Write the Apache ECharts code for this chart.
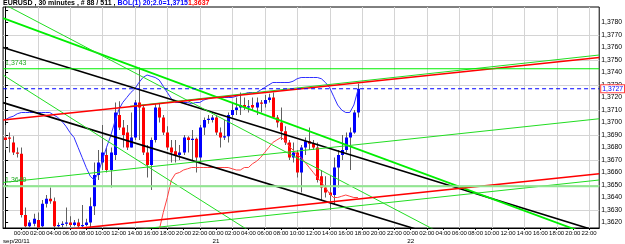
<!DOCTYPE html>
<html>
<head>
<meta charset="utf-8">
<script src="https://cdn.jsdelivr.net/npm/echarts@6/dist/echarts.min.js"></script>
<style>
  html, body { margin: 0; padding: 0; background: #fff; }
  #main { width: 625px; height: 244px; }
</style>
</head>
<body>
<div id="main"></div>
<script>
// 30 minute bars, EURUSD, sep 20-21 2011
const openP = [1.3688,1.3688,1.3684,1.3676,1.3675,1.3626,1.3617,1.3619,1.3622,1.3617,
  1.3635,1.3639,1.3637,1.3617,1.3618,1.3619,1.3620,1.3618,1.3620,1.3617,
  1.3618,1.3620,1.3633,1.3658,1.3668,1.3674,1.3662,1.3674,1.3706,1.3696,
  1.3692,1.3680,1.3688,1.3716,1.3712,1.3676,1.3666,1.3686,1.3712,1.3704,
  1.3692,1.3680,1.3677,1.3674,1.3676,1.3688,1.3686,1.3687,1.3672,1.3696,
  1.3702,1.3702,1.3704,1.3692,1.3688,1.3689,1.3706,1.3710,1.3712,1.3714,
  1.3712,1.3714,1.3712,1.3716,1.3715,1.3718,1.3720,1.3704,1.3700,1.3693,
  1.3684,1.3672,1.3676,1.3660,1.3680,1.3685,1.3683,1.3680,1.3657,1.3648,
  1.3644,1.3642,1.3664,1.3674,1.3678,1.3688,1.3692,1.3708];
const highP = [1.3698,1.3692,1.3689,1.3680,1.3680,1.3632,1.3622,1.3627,1.3628,1.3638,
  1.3642,1.3648,1.3640,1.3620,1.3621,1.3632,1.3625,1.3622,1.3623,1.3634,
  1.3623,1.3640,1.3668,1.3678,1.3698,1.3680,1.3680,1.3716,1.3717,1.3702,
  1.3698,1.3708,1.3718,1.3744,1.3714,1.3682,1.3688,1.3715,1.3715,1.3706,
  1.3697,1.3686,1.3686,1.3682,1.3690,1.3689,1.3694,1.3688,1.3698,1.3704,
  1.3706,1.3706,1.3706,1.3696,1.3702,1.3708,1.3716,1.3720,1.3724,1.3720,
  1.3718,1.3720,1.3720,1.3718,1.3722,1.3723,1.3724,1.3706,1.3712,1.3697,
  1.3686,1.3684,1.3678,1.3682,1.3688,1.3696,1.3686,1.3684,1.3662,1.3657,
  1.3658,1.3672,1.3678,1.3690,1.3692,1.3696,1.3710,1.3731];
const lowP = [1.3678,1.3676,1.3674,1.3672,1.3624,1.3616,1.3616,1.3617,1.3615,1.3616,
  1.3632,1.3635,1.3616,1.3616,1.3616,1.3617,1.3616,1.3617,1.3616,1.3616,
  1.3617,1.3616,1.3626,1.3654,1.3662,1.3660,1.3648,1.3670,1.3694,1.3680,
  1.3678,1.3680,1.3686,1.3686,1.3674,1.3656,1.3646,1.3684,1.3700,1.3690,
  1.3678,1.3668,1.3668,1.3670,1.3674,1.3676,1.3670,1.3660,1.3668,1.3690,
  1.3699,1.3700,1.3690,1.3680,1.3686,1.3684,1.3704,1.3706,1.3706,1.3710,
  1.3708,1.3710,1.3706,1.3708,1.3712,1.3716,1.3703,1.3696,1.3686,1.3682,
  1.3670,1.3668,1.3656,1.3644,1.3674,1.3678,1.3678,1.3652,1.3638,1.3640,
  1.3630,1.3634,1.3648,1.3670,1.3676,1.3662,1.3691,1.3704];
const closeP = [1.3686,1.3687,1.3676,1.3675,1.3626,1.3617,1.3620,1.3623,1.3616,1.3635,
  1.3639,1.3637,1.3617,1.3618,1.3619,1.3620,1.3618,1.3620,1.3617,1.3618,
  1.3620,1.3633,1.3658,1.3668,1.3676,1.3662,1.3676,1.3708,1.3696,1.3690,
  1.3680,1.3688,1.3716,1.3712,1.3676,1.3666,1.3686,1.3712,1.3704,1.3692,
  1.3680,1.3676,1.3674,1.3676,1.3688,1.3686,1.3687,1.3672,1.3696,1.3702,
  1.3703,1.3704,1.3692,1.3688,1.3689,1.3706,1.3710,1.3712,1.3714,1.3712,
  1.3713,1.3712,1.3716,1.3715,1.3718,1.3720,1.3704,1.3700,1.3693,1.3684,
  1.3672,1.3676,1.3660,1.3680,1.3685,1.3683,1.3680,1.3654,1.3648,1.3644,
  1.3642,1.3664,1.3674,1.3678,1.3688,1.3692,1.3708,1.3727];

// BOL(1) 20;2.0 bands
const bandUp = [1.3702,1.3704,1.3705,1.3707,1.3708,1.3708,1.3708,1.3708,1.3708,1.3708,
  1.3708,1.3708,1.3706,1.3704,1.3701,1.3697,1.3692,1.3688,1.3680,1.3672,
  1.3664,1.3657,1.3654,1.3660,1.3670,1.3680,1.3689,1.3700,1.3710,1.3716,
  1.3720,1.3724,1.3727,1.3732,1.3736,1.3738,1.3737,1.3736,1.3734,1.3729,
  1.3724,1.3719,1.3716,1.3716,1.3716,1.3716,1.3715,1.3716,1.3716,1.3718,
  1.3719,1.3720,1.3720,1.3720,1.3720,1.3720,1.3720,1.3721,1.3722,1.3723,
  1.3724,1.3724,1.3724,1.3726,1.3728,1.3730,1.3732,1.3732,1.3732,1.3732,
  1.3732,1.3733,1.3735,1.3736,1.3736,1.3736,1.3736,1.3736,1.3735,1.3732,
  1.3728,1.3721,1.3714,1.3710,1.3708,1.3708,1.3714,1.3726];
const bandDn = [null,null,null,null,null,null,null,null,null,null,
  null,null,null,null,null,null,null,null,null,null,
  null,null,null,null,null,null,null,null,null,null,
  null,null,null,null,null,null,null,1.3598,1.3614,1.3628,
  1.3640,1.3654,1.3659,1.3660,1.3662,1.3663,1.3664,1.3664,1.3664,1.3664,
  1.3664,1.3664,1.3664,1.3664,1.3664,1.3664,1.3663,1.3662,1.3662,1.3664,
  1.3664,1.3667,1.3669,1.3672,1.3676,1.3680,1.3684,1.3686,1.3688,1.3686,
  1.3681,1.3678,1.3674,1.3672,1.3668,1.3664,1.3660,1.3656,1.3652,1.3648,
  1.3643,1.3640,1.3640,1.3641,1.3642,1.3641,1.3640,1.3640];

// chart objects: [bar, price] end points
const blackUp = [[-0.5, 1.3760], [146.5, 1.36126]];
const blackDn = [[-0.5, 1.37159], [146.5, 1.35698]];
const greenMain = [[-0.5, 1.37835], [146.5, 1.36073]];
const greenSteep = [[-0.5, 1.3795], [146.5, 1.3545]];
const greenSteep2 = [[-0.5, 1.3738], [146.5, 1.3436]];
const greenRise = [[-0.5, 1.3652], [146.5, 1.3703]];
const greenTop = [[30.8, 1.3713], [146.5, 1.3754]];
const greenLow = [[-0.5, 1.3603], [146.5, 1.3654]];
const redUp = [[-0.5, 1.3702], [146.5, 1.3752]];
const redDn = [[-0.5, 1.3609], [146.5, 1.3659]];
const hLineHigh = 1.3743;
const hLineLow = 1.3649;
const lastPrice = 1.3727;

const gridPrices = [1.3630,1.3650,1.3670,1.3690,1.3710,1.3730,1.3750,1.3770];
const gridBars = [8,16,24,32,40,48,56,64,72,80,88,96,104,112,120,128,136,144];

// time axis, first bar 22:00 on the 19th
const nBars = 147;
const times = [];
for (let i = 0; i < nBars; i++) {
  const m = 22 * 60 + i * 30;
  const d = 19 + Math.floor(m / 1440);
  const hh = Math.floor((m % 1440) / 60), mm = m % 60;
  times.push(d + ' ' + String(hh).padStart(2, '0') + ':' + String(mm).padStart(2, '0'));
}

const font = 'Liberation Sans';
const candles = openP.map((o, i) => [i, o, closeP[i], lowP[i], highP[i]]);

function renderCandle(params, api) {
  const i = api.value(0);
  const o = api.value(1), c = api.value(2);
  const po = api.coord([i, o]);
  const pc = api.coord([i, c]);
  const pl = api.coord([i, api.value(3)]);
  const ph = api.coord([i, api.value(4)]);
  const x = Math.round(po[0]) + 0.5;
  const top = Math.min(po[1], pc[1]);
  const h = Math.max(Math.abs(po[1] - pc[1]), 1);
  return {
    type: 'group',
    children: [
      { type: 'line', shape: { x1: x, y1: ph[1], x2: x, y2: pl[1] },
        style: { stroke: '#606060', lineWidth: 1 } },
      { type: 'rect', shape: { x: x - 1.5, y: top, width: 3, height: h },
        style: { fill: c >= o ? '#0000ff' : '#ff0000' } }
    ]
  };
}

// grid lines drawn through the axes
function renderVGrid(params, api) {
  const x = Math.round(api.coord([api.value(0), 1.37])[0]) + 0.5;
  const cs = params.coordSys;
  return { type: 'line', shape: { x1: x, y1: cs.y, x2: x, y2: cs.y + cs.height },
    style: { stroke: '#d4d4d4', lineWidth: 1 } };
}
function renderHGrid(params, api) {
  const y = Math.round(api.coord([0, api.value(1)])[1]) + 0.5;
  const cs = params.coordSys;
  return { type: 'line', shape: { x1: cs.x, y1: y, x2: cs.x + cs.width, y2: y },
    style: { stroke: '#d4d4d4', lineWidth: 1 } };
}

function trend(data, color, width) {
  return {
    type: 'line', xAxisIndex: 2, data: data, symbol: 'none', silent: true,
    clip: true, z: 4, lineStyle: { color: color, width: width }
  };
}

function hline(price, color, width, label) {
  const s = trend([[nBars - 0.5, price], [-0.5, price]], color, width);
  s.endLabel = { show: true, formatter: label, color: '#22aa22', fontSize: 7, fontFamily: font,
    distance: 2, offset: [0, -6] };
  return s;
}

const chart = echarts.init(document.getElementById('main'));
chart.setOption({
  animation: false,
  backgroundColor: '#fff',
  textStyle: { fontFamily: font },
  title: {
    left: 3, top: 0, padding: 0,
    text: '{a|EURUSD , 30 minutes , # 88 / 511 , }{b|BOL(1) 20;2.0=1,3715}{c|1,3637}',
    textStyle: {
      fontSize: 7,
      rich: {
        a: { fontSize: 7, color: '#000', fontFamily: font },
        b: { fontSize: 7, color: '#0000ff', fontFamily: font },
        c: { fontSize: 7, color: '#ff0000', fontFamily: font }
      }
    }
  },
  grid: { left: 3, right: 25, top: 7, bottom: 16, show: true, borderColor: '#000', borderWidth: 1 },
  xAxis: [
    {
      type: 'category', data: times, boundaryGap: true,
      axisLine: { lineStyle: { color: '#000' } },
      axisTick: { show: true, alignWithLabel: true, length: 2, interval: (i) => i % 4 === 0 && i > 0,
        lineStyle: { color: '#000' } },
      axisLabel: { interval: (i) => i % 4 === 0 && i > 0, fontSize: 6, color: '#000', margin: 2,
        fontFamily: font, formatter: (v) => v.slice(-5) },
      splitLine: { show: false }
    },
    {
      type: 'category', data: times, boundaryGap: true, position: 'bottom', offset: 8,
      axisLine: { show: false }, axisTick: { show: false },
      axisLabel: {
        interval: (i) => times[i].slice(-5) === '00:00', fontSize: 6.2, color: '#000', margin: 2,
        fontFamily: font,
        formatter: (v, i) => i === 4 ? '{f|sep/' + v.slice(0, 2) + '/11}' : v.slice(0, 2),
        rich: { f: { fontSize: 6.2, fontFamily: font, color: '#000', padding: [0, 10, 0, 0] } }
      }
    },
    { type: 'value', min: -0.5, max: nBars - 0.5, show: false }
  ],
  yAxis: {
    type: 'value', position: 'right', min: 1.36156, max: 1.37924, splitNumber: 18,
    axisLine: { show: true, lineStyle: { color: '#000' } },
    axisTick: { show: true, length: 3, lineStyle: { color: '#000' } },
    axisLabel: {
      fontSize: 6.8, color: '#000', margin: 2, fontFamily: font,
      showMinLabel: false, showMaxLabel: false,
      formatter: (v) => (v > 1.3785 || v < 1.3615) ? '' : v.toFixed(4).replace('.', ',')
    },
    splitLine: { show: false }
  },
  series: [
    {
      type: 'custom', xAxisIndex: 2, renderItem: renderVGrid, silent: true, z: 0,
      data: gridBars.map((b) => [b, 1.37]), encode: { x: 0, y: 1 }
    },
    {
      type: 'custom', xAxisIndex: 2, renderItem: renderHGrid, silent: true, z: 0,
      data: gridPrices.map((p) => [0, p]), encode: { x: 0, y: 1 }
    },
    {
      type: 'custom', renderItem: renderCandle, data: candles, clip: true, z: 2,
      encode: { x: 0, y: [1, 2, 3, 4] }
    },
    {
      type: 'line', data: bandUp, symbol: 'none', silent: true, z: 3,
      lineStyle: { color: '#3030ff', width: 1 }
    },
    {
      type: 'line', data: bandDn, symbol: 'none', silent: true, z: 3, clip: true,
      lineStyle: { color: '#ff4040', width: 1 }
    },
    trend(blackUp, '#000', 1.6),
    trend(blackDn, '#000', 1.6),
    trend(greenMain, '#00ee00', 1.8),
    trend(greenSteep, '#22dd22', 1),
    trend(greenSteep2, '#22dd22', 1),
    trend(greenRise, '#22dd22', 1),
    trend(greenTop, '#22dd22', 1),
    trend(greenLow, '#22dd22', 1),
    trend(redUp, '#ff0000', 1.6),
    trend(redDn, '#ff0000', 1.6),
    hline(hLineHigh, '#00ee00', 1.2, '1,3743'),
    hline(hLineLow, '#90e890', 2, '1,3649'),
    Object.assign(trend([[-0.5, lastPrice], [nBars - 0.5, lastPrice]], '#0000ff', 1), {
      lineStyle: { color: '#0000ff', width: 1, type: [4, 3] },
      endLabel: { show: true, formatter: '1,3727', color: '#0000ff', fontSize: 6.8, fontFamily: font,
        distance: 2, backgroundColor: '#fff', borderColor: '#ff4040', borderWidth: 1,
        padding: [0, 1, 0, 1] }
    })
  ]
});
</script>
</body>
</html>
